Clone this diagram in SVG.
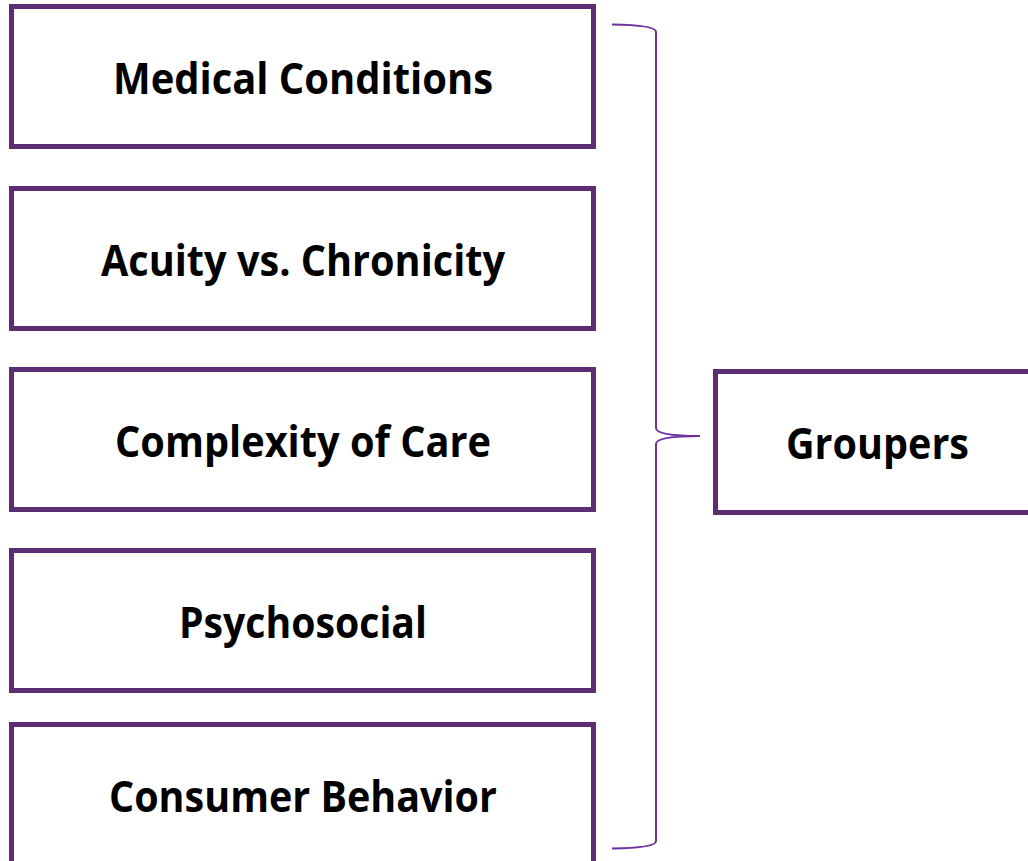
<svg xmlns="http://www.w3.org/2000/svg" width="1028" height="861" viewBox="0 0 1028 861">
  <style>
    .box { fill: #ffffff; stroke: #5c2d72; stroke-width: 5; }
    .label { font-family: "Open Sans", "Liberation Sans", sans-serif; font-weight: 700; font-size: 43px; fill: #000000; text-anchor: middle; }
    .brace { fill: none; stroke: #7030a0; stroke-width: 2; }
  </style>
  <rect x="0" y="0" width="1028" height="861" fill="#ffffff"/>

  <g id="medical-conditions">
    <rect class="box" x="11.5" y="6.5" width="582" height="140"/>
    <text class="label" x="303" y="94" textLength="380" lengthAdjust="spacingAndGlyphs">Medical Conditions</text>
  </g>
  <g id="acuity-chronicity">
    <rect class="box" x="11.5" y="188.5" width="582" height="140"/>
    <text class="label" x="303" y="276" textLength="404" lengthAdjust="spacingAndGlyphs">Acuity vs. Chronicity</text>
  </g>
  <g id="complexity-of-care">
    <rect class="box" x="11.5" y="369.5" width="582" height="140"/>
    <text class="label" x="303" y="457" textLength="376" lengthAdjust="spacingAndGlyphs">Complexity of Care</text>
  </g>
  <g id="psychosocial">
    <rect class="box" x="11.5" y="550.5" width="582" height="140"/>
    <text class="label" x="303" y="638" textLength="248" lengthAdjust="spacingAndGlyphs">Psychosocial</text>
  </g>
  <g id="consumer-behavior">
    <rect class="box" x="11.5" y="724.5" width="582" height="140"/>
    <text class="label" x="303" y="812" textLength="388" lengthAdjust="spacingAndGlyphs">Consumer Behavior</text>
  </g>
  <g id="groupers">
    <rect class="box" x="715.5" y="371.5" width="324" height="141"/>
    <text class="label" x="877.5" y="459" textLength="183" lengthAdjust="spacingAndGlyphs">Groupers</text>
  </g>

  <g id="connectors">
    <path class="brace" d="M612,24.5 Q656,25 656,32 L656,428 Q656,436 700,436 Q656,436 656,444 L656,841 Q656,848 612,848.5"/>
  </g>
</svg>
